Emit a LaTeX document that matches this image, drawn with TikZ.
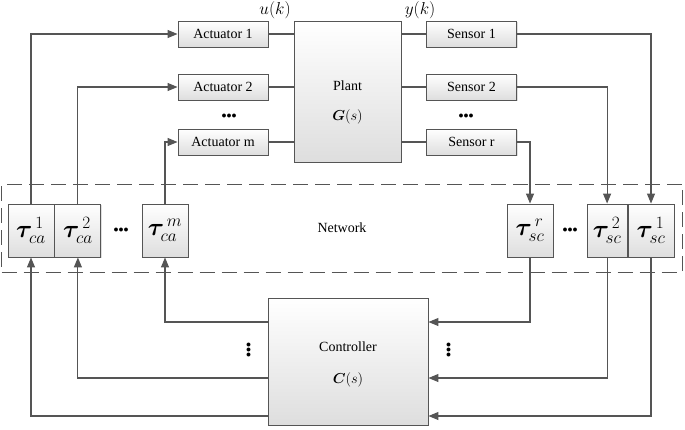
\documentclass[tikz,border=0pt]{standalone}
\usepackage{amsmath,bm}
\usepackage{fontspec}
\setmainfont{Liberation Serif}
\usetikzlibrary{positioning,arrows.meta,shadows}
\definecolor{linegray}{RGB}{85,85,85}
\tikzset{
  blk/.style={draw=linegray, line width=0.9pt, top color=white, bottom color=black!13,
    drop shadow={opacity=0.25,shadow xshift=1.2pt,shadow yshift=-1.2pt},
    inner sep=0pt, font=\fontsize{14}{16}\selectfont},
  io/.style={blk, minimum width=90pt, minimum height=26pt},
  dly/.style={blk, minimum width=46pt, minimum height=53pt, font=\fontsize{24}{26}\selectfont},
  wire/.style={draw=linegray, line width=1.1pt},
  arr/.style={wire, -{Triangle[length=10pt,width=8pt]}},
  hdots/.style={font=\fontsize{10}{10}\selectfont, inner sep=0pt},
}

\begin{document}
\begin{tikzpicture}[x=1pt,y=-1pt]
  \useasboundingbox (0,0) rectangle (685,429);
  % network region
  \node (net) [draw=linegray, line width=1pt, dash pattern=on 15pt off 7pt,
    minimum width=681pt, minimum height=88pt, font=\fontsize{14}{16}\selectfont] at (342,228) {Network};
  % plant with actuators and sensors
  \node (plant) [blk, minimum width=107pt, minimum height=141pt, align=center] at (347.5,91.5)
    {\rule{0pt}{31pt}Plant\\[14pt]$\bm{G}(s)$};
  \node (act1) [io] at (223,34) {Actuator 1};
  \node (act2) [io] at (223,87) {Actuator 2};
  \node (actm) [io] at (223,142) {Actuator m};
  \node (sen1) [io] at (471.5,34) {Sensor 1};
  \node (sen2) [io] at (471.5,87) {Sensor 2};
  \node (senr) [io] at (471.5,142) {Sensor r};
  \node (dota) [hdots] at (229,116) {${\bullet}{\bullet}{\bullet}$};
  \node (dots) [hdots] at (466,116) {${\bullet}{\bullet}{\bullet}$};
  \node (lblu) [font=\fontsize{16}{18}\selectfont] at (275,10) {$u(k)$};
  \node (lbly) [font=\fontsize{16}{18}\selectfont] at (420,10) {$y(k)$};
  % delays
  \node (tca1) [dly] at (31,230.5) {$\bm{\tau}_{ca}^{\,1}$};
  \node (tca2) [dly, right=0pt of tca1] {$\bm{\tau}_{ca}^{\,2}$};
  \node (dotca) [hdots] at (121,230) {${\bullet}{\bullet}{\bullet}$};
  \node (tcam) [dly] at (165,230.5) {$\bm{\tau}_{ca}^{\,m}$};
  \node (tscr) [dly] at (530,230.5) {$\bm{\tau}_{sc}^{\,r}$};
  \node (dotsc) [hdots] at (570,230) {${\bullet}{\bullet}{\bullet}$};
  \node (tsc1) [dly] at (651,230.5) {$\bm{\tau}_{sc}^{\,1}$};
  \node (tsc2) [dly, minimum width=40pt, left=0pt of tsc1] {$\bm{\tau}_{sc}^{\,2}$};
  % controller
  \node (ctrl) [blk, minimum width=160pt, minimum height=127pt, align=center] at (348,361.5)
    {\rule{0pt}{16pt}Controller\\[16pt]$\bm{C}(s)$};
  \node (vdl) [hdots, rotate=90] at (249,350) {${\bullet}{\bullet}{\bullet}$};
  \node (vdr) [hdots, rotate=90] at (449,350) {${\bullet}{\bullet}{\bullet}$};
  \coordinate (lvlA) at (0,322);
  \coordinate (lvlB) at (0,378);
  \coordinate (lvlC) at (0,416);

  % plant links
  \draw[wire] (act1.east) -- (act1.east -| plant.west);
  \draw[wire] (act2.east) -- (act2.east -| plant.west);
  \draw[wire] (actm.east) -- (actm.east -| plant.west);
  \draw[wire] (sen1.west -| plant.east) -- (sen1.west);
  \draw[wire] (sen2.west -| plant.east) -- (sen2.west);
  \draw[wire] (senr.west -| plant.east) -- (senr.west);
  % sensors to network
  \draw[arr] (sen1.east) -| (tsc1.north);
  \draw[arr] (sen2.east) -| (tsc2.north);
  \draw[arr] (senr.east) -| (tscr.north);
  % network to actuators
  \draw[arr] (tca1.north) |- (act1.west);
  \draw[arr] (tca2.north) |- (act2.west);
  \draw[arr] (tcam.north) |- (actm.west);
  % network to controller
  \draw[arr] (tscr.south) |- (ctrl.east |- lvlA);
  \draw[arr] (tsc2.south) |- (ctrl.east |- lvlB);
  \draw[arr] (tsc1.south) |- (ctrl.east |- lvlC);
  % controller to network
  \draw[arr] (ctrl.west |- lvlA) -| (tcam.south);
  \draw[arr] (ctrl.west |- lvlB) -| (tca2.south);
  \draw[arr] (ctrl.west |- lvlC) -| (tca1.south);
\end{tikzpicture}
\end{document}
